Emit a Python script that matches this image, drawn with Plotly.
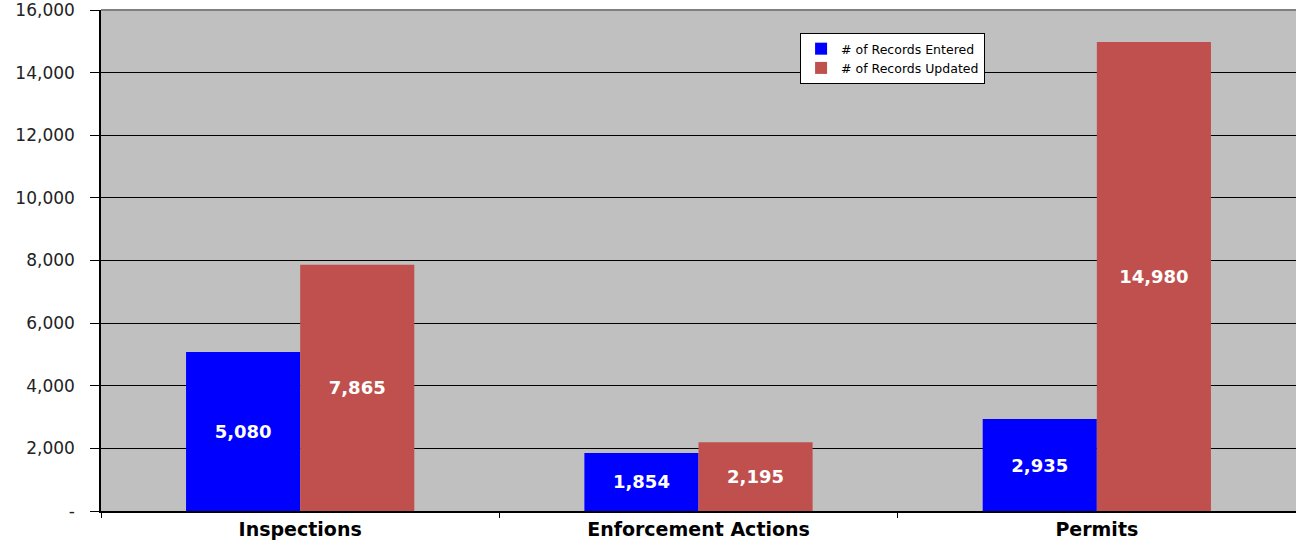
import plotly.graph_objects as go

categories = ["Inspections", "Enforcement Actions", "Permits"]
records_entered = [5080, 1854, 2935]
records_updated = [7865, 2195, 14980]
y_tick_vals = [0, 2000, 4000, 6000, 8000, 10000, 12000, 14000, 16000]
y_tick_text = ["-", "2,000", "4,000", "6,000", "8,000", "10,000", "12,000", "14,000", "16,000"]

label_font = dict(family="DejaVu Sans", size=18, color="white", weight="bold")

fig = go.Figure()
fig.add_trace(go.Bar(
    x=categories, y=records_entered, name="# of Records Entered",
    marker=dict(color="#0000FF", line=dict(width=0)),
    text=[f"{v:,}" for v in records_entered], textposition="inside",
    insidetextanchor="middle", textangle=0, textfont=label_font,
))
fig.add_trace(go.Bar(
    x=categories, y=records_updated, name="# of Records Updated",
    marker=dict(color="#C0504D", line=dict(width=0)),
    text=[f"{v:,}" for v in records_updated], textposition="inside",
    insidetextanchor="middle", textangle=0, textfont=label_font,
))

fig.update_layout(
    width=1296, height=544,
    margin=dict(l=101, r=0, t=10, b=33),
    paper_bgcolor="white", plot_bgcolor="#C0C0C0",
    barmode="group", bargap=0.427, bargroupgap=0,
    font=dict(family="DejaVu Sans", color="#222222"),
    showlegend=True,
    legend=dict(
        x=0.585, y=0.954, xanchor="left", yanchor="top",
        bgcolor="white", bordercolor="black", borderwidth=1,
        font=dict(family="DejaVu Sans", size=12.5, color="black"),
        itemwidth=30, tracegroupgap=0,
    ),
    uniformtext=dict(minsize=18, mode="show"),
)
fig.update_xaxes(
    showline=True, linecolor="black", linewidth=1.5,
    ticks="outside", tickson="boundaries", ticklen=5, tickcolor="black",
    tickfont=dict(family="DejaVu Sans", size=19, color="black", weight="bold"),
    showgrid=False,
)
fig.update_yaxes(
    range=[0, 16000], tickvals=y_tick_vals, ticktext=y_tick_text,
    showline=True, linecolor="black", linewidth=1.5,
    ticks="outside", ticklen=9, tickcolor="black",
    tickfont=dict(family="DejaVu Sans", size=17, color="#222222"),
    ticklabeloverflow="allow", ticklabelstandoff=12,
    showgrid=True, gridcolor="black", gridwidth=1,
    zeroline=False,
)
fig.add_shape(type="line", xref="paper", yref="paper", x0=0, x1=1, y0=1, y1=1,
              line=dict(color="#808080", width=2))

fig.write_html("out.html", config={"displayModeBar": False},
               post_script="document.body.style.margin='0';")
